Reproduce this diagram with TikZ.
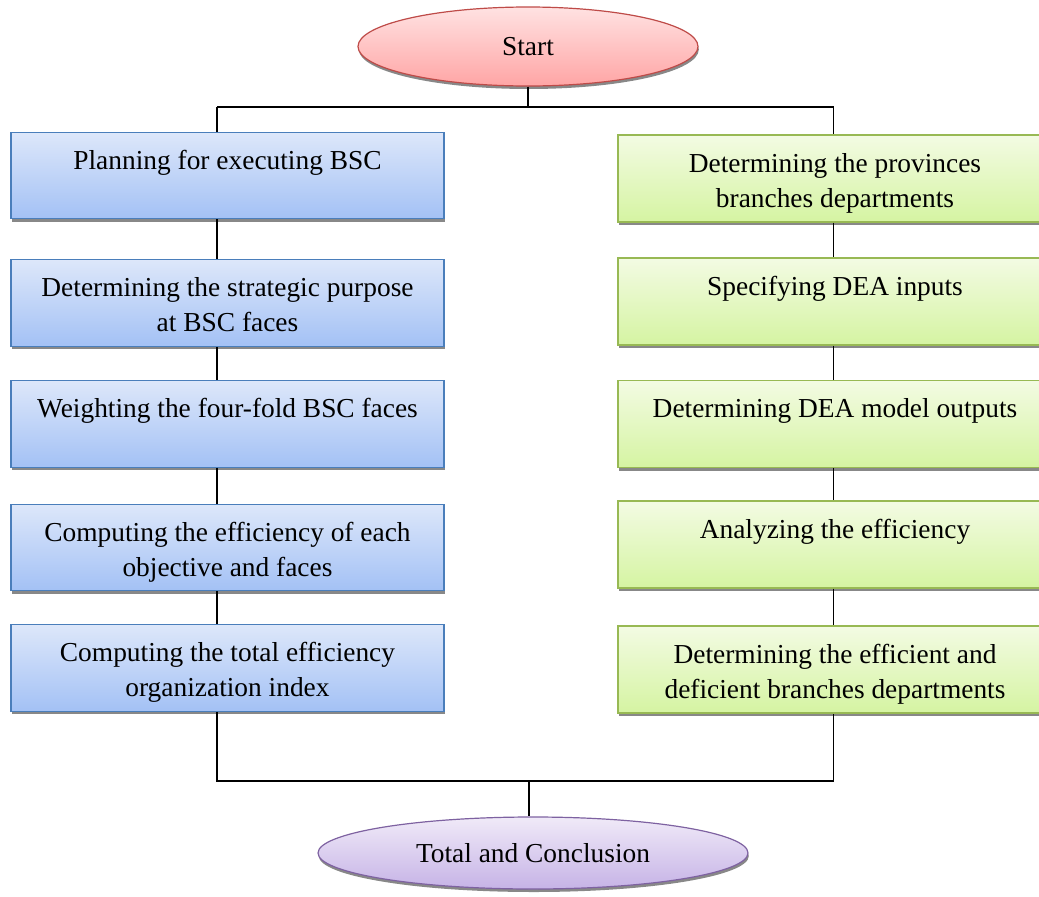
\documentclass[tikz,border=0pt]{standalone}
\usepackage{fontspec}
\setmainfont{Liberation Serif}
\usetikzlibrary{shapes.geometric,shadows}
\definecolor{bluetop}{HTML}{DDE7FA}
\definecolor{bluebot}{HTML}{A3C1F5}
\definecolor{blueline}{HTML}{4A7EBB}
\definecolor{greentop}{HTML}{F3FBE3}
\definecolor{greenbot}{HTML}{D5F4A2}
\definecolor{greenline}{HTML}{98B954}
\definecolor{redtop}{HTML}{FFE2E2}
\definecolor{redbot}{HTML}{FFA5A5}
\definecolor{redline}{HTML}{BE4B48}
\definecolor{purtop}{HTML}{F0EAF8}
\definecolor{purbot}{HTML}{C6B3E6}
\definecolor{purline}{HTML}{7E62A1}
\newcommand{\twol}[2]{\strut #1\\\strut #2}
\tikzset{
  shadowed/.style={drop shadow={shadow xshift=0.8pt,shadow yshift=-3pt,fill=black!55,opacity=0.85}},
  boxbase/.style={rectangle,minimum width=433pt,minimum height=86.5pt,inner sep=0pt,line width=1.2pt,shadowed},
  bluebox/.style={boxbase,draw=blueline,top color=bluetop,bottom color=bluebot},
  greenbox/.style={boxbase,minimum width=434pt,minimum height=87pt,draw=greenline,top color=greentop,bottom color=greenbot},
  boxtext/.style={align=center,inner sep=0pt,font=\fontsize{27.4}{35}\selectfont},
  oval/.style={ellipse,inner sep=0pt,line width=1.2pt,shadowed,font=\fontsize{27.4}{35}\selectfont},
  conn/.style={line width=1.5pt,black}
}
\begin{document}
\begin{tikzpicture}[x=1pt,y=-1pt]
\useasboundingbox (0,0) rectangle (1039,897);
\clip (0,0) rectangle (1039,897);
% start
\node[oval,minimum width=340pt,minimum height=79pt,draw=redline,top color=redtop,bottom color=redbot] (start) at (528,46.5) {Start};
% left column
\node[bluebox] (b1) at (227.5,175.5) {};
\node[bluebox] (b2) at (227.5,303) {};
\node[bluebox] (b3) at (227.5,424) {};
\node[bluebox] (b4) at (227.5,547.5) {};
\node[bluebox] (b5) at (227.5,668) {};
\node[boxtext] (b1t) at ([yshift=-4pt]b1.center) {\twol{Planning for executing BSC}{}};
\node[boxtext] (b2t) at ([yshift=-4pt]b2.center) {\twol{Determining the strategic purpose}{at BSC faces}};
\node[boxtext] (b3t) at ([yshift=-4pt]b3.center) {\twol{Weighting the four-fold BSC faces}{}};
\node[boxtext] (b4t) at ([yshift=-4pt]b4.center) {\twol{Computing the efficiency of each}{objective and faces}};
\node[boxtext] (b5t) at ([yshift=-4pt]b5.center) {\twol{Computing the total efficiency}{organization index}};
% right column
\node[greenbox] (g1) at (835,178.5) {};
\node[greenbox] (g2) at (835,301.5) {};
\node[greenbox] (g3) at (835,424) {};
\node[greenbox] (g4) at (835,544.5) {};
\node[greenbox] (g5) at (835,669.5) {};
\node[boxtext] (g1t) at ([yshift=-4pt]g1.center) {\twol{Determining the provinces}{branches departments}};
\node[boxtext] (g2t) at ([yshift=-4pt]g2.center) {\twol{Specifying DEA inputs}{}};
\node[boxtext] (g3t) at ([yshift=-4pt]g3.center) {\twol{Determining DEA model outputs}{}};
\node[boxtext] (g4t) at ([yshift=-4pt]g4.center) {\twol{Analyzing the efficiency}{}};
\node[boxtext] (g5t) at ([yshift=-4pt]g5.center) {\twol{Determining the efficient and}{deficient branches departments}};
% end
\node[oval,minimum width=430pt,minimum height=72pt,draw=purline,top color=purtop,bottom color=purbot] (end) at (533,853) {Total and Conclusion};
% connector coordinates
\coordinate (tl) at (217,107);
\coordinate (tr) at (833.5,107);
\coordinate (bl) at (217,781);
\coordinate (br) at (833.5,781);
\coordinate (bm) at (529,781);
% top connectors
\draw[conn] (start.south) -- (start.south |- tl);
\draw[conn] (tl) -- (tr);
\draw[conn] (tl) -- (b1.north -| tl);
\draw[conn] (tr) -- (g1.north -| tr);
% left chain
\draw[conn] (b1.south -| tl) -- (b2.north -| tl);
\draw[conn] (b2.south -| tl) -- (b3.north -| tl);
\draw[conn] (b3.south -| tl) -- (b4.north -| tl);
\draw[conn] (b4.south -| tl) -- (b5.north -| tl);
% right chain
\draw[conn] (g1.south -| tr) -- (g2.north -| tr);
\draw[conn] (g2.south -| tr) -- (g3.north -| tr);
\draw[conn] (g3.south -| tr) -- (g4.north -| tr);
\draw[conn] (g4.south -| tr) -- (g5.north -| tr);
% bottom connectors
\draw[conn] (b5.south -| bl) -- (bl) -- (br) -- (g5.south -| br);
\draw[conn] (bm) -- (end.north -| bm);
\end{tikzpicture}
\end{document}
